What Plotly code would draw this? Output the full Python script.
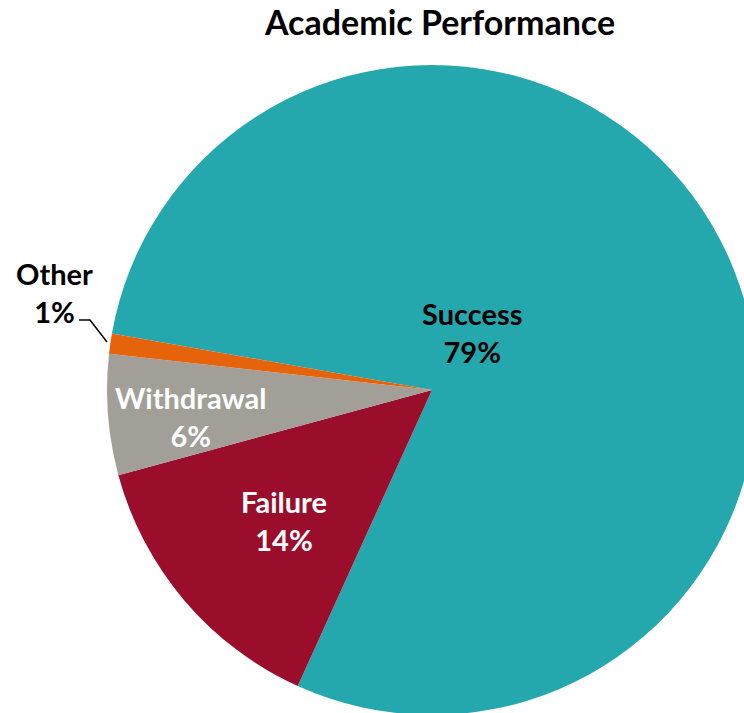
import plotly.graph_objects as go

categories = ["Success", "Failure", "Withdrawal", "Other"]
values = [79, 14, 6, 1]
colors = ["#24A7AD", "#9A0E2B", "#A19F97", "#E5630B"]
label_colors = ["black", "white", "white", "black"]

# figure slightly larger than the window so the pie is clipped like the reference
W, H = 758, 716

def px(x):
    return x / W

def py(y):
    return 1 - y / H

fig = go.Figure()
fig.add_trace(go.Pie(
    labels=categories,
    values=values,
    sort=False,
    direction="clockwise",
    rotation=280,
    marker=dict(colors=colors, line=dict(width=0)),
    textinfo="none",
    hoverinfo="label+percent",
    showlegend=False,
    domain=dict(x=[px(107), px(757)], y=[py(715), py(65)]),
))

# label positions (pixel centers)
label_pos = {
    "Success": (472, 332),
    "Failure": (284, 520),
    "Withdrawal": (191, 416),
    "Other": (54, 292),
}
font_family = "Lato, 'Open Sans', sans-serif"
for cat, val, col in zip(categories, values, label_colors):
    x, y = label_pos[cat]
    fig.add_annotation(
        x=px(x), y=py(y), xref="paper", yref="paper",
        text=f"{cat}<br>{val}%", showarrow=False,
        xanchor="center", yanchor="middle", align="center",
        font=dict(family=font_family, size=29, color=col, weight="bold"),
    )

# leader line for "Other"
fig.add_shape(
    type="path", xref="paper", yref="paper",
    path=f"M {px(79)},{py(320)} L {px(90)},{py(320)} L {px(107)},{py(342)}",
    line=dict(color="black", width=1.5),
)

fig.update_layout(
    width=W, height=H,
    margin=dict(l=0, r=0, t=0, b=0),
    paper_bgcolor="white",
    plot_bgcolor="white",
    title=dict(
        text="Academic Performance",
        x=px(440), xanchor="center",
        y=py(23), yanchor="middle",
        font=dict(family=font_family, size=34, color="black", weight="bold"),
    ),
)

fig.write_html(
    "out.html",
    config={"displayModeBar": False},
    post_script=(
        "document.body.style.margin='0';"
        "document.body.style.overflow='hidden';"
        "document.documentElement.style.overflow='hidden';"
    ),
)
